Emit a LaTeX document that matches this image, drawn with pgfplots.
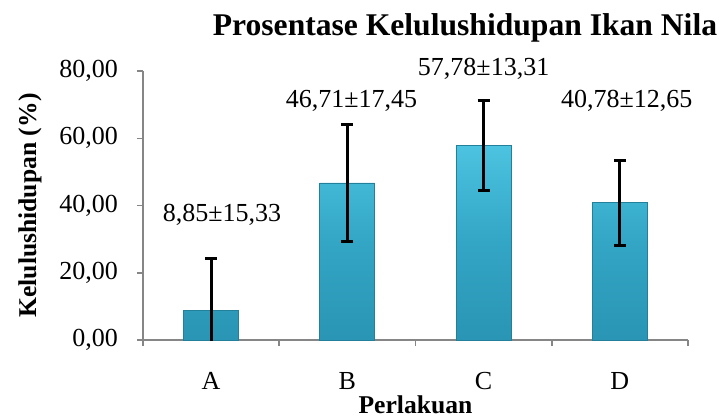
\documentclass[border=0pt]{standalone}
\usepackage{pgfplots}
\pgfplotsset{compat=1.18}
\usepackage{fontspec}
\setmainfont{Liberation Serif}
\definecolor{barc}{HTML}{33A5C5}
\definecolor{bartop}{HTML}{4CC3E0}
\definecolor{barbot}{HTML}{2A95B4}
\definecolor{baredge}{HTML}{23809B}
\definecolor{axgray}{HTML}{868686}
\begin{document}
\begin{tikzpicture}
\useasboundingbox (-71.5pt,-38.5pt) rectangle (289.5pt,170pt);
\begin{axis}[
  scale only axis, width=272.5pt, height=134.5pt,
  xmin=-0.5, xmax=3.5, ymin=0, ymax=80,
  axis x line*=bottom, axis y line*=left,
  axis line style={draw=axgray, line width=0.75pt},
  every tick/.style={draw=axgray, line width=0.75pt},
  tick align=outside,
  xtick={0,1,2,3}, xticklabels={A,B,C,D},
  major x tick style={draw=none},
  minor xtick={-0.5,0.5,1.5,2.5,3.5},
  minor tick length=3pt, major tick length=3pt,
  ytick={0,20,40,60,80},
  /pgf/number format/.cd, fixed, fixed zerofill, precision=2, use comma, assume math mode=true,
  /pgfplots/.cd,
  tick label style={font=\fontsize{13}{15}\selectfont},
  xticklabel style={anchor=base, yshift=-21.5pt},
  yticklabel style={anchor=east, xshift=-6pt},
  xlabel={Perlakuan},
  xlabel style={font=\bfseries\fontsize{12.8}{15}\selectfont, at={(axis description cs:0.5,-0.2714)}, anchor=base},
  ylabel={Kelulushidupan (\%)},
  ylabel style={font=\bfseries\fontsize{12.8}{15}\selectfont, at={(axis description cs:-0.2073,0.5)}, anchor=center, rotate=0},
  clip mode=individual,
  ybar, bar width=27.5pt,
]
\addplot[
  draw=baredge, line width=0.4pt, top color=bartop, bottom color=barbot, middle color=barc,
  error bars/.cd, y dir=both, y explicit,
  error bar style={black, line width=1.5pt},
  error mark options={black, line width=1.5pt, mark size=3pt, rotate=90},
] coordinates {
  (0,8.85) +- (0,15.33)
  (1,46.71) +- (0,17.45)
  (2,57.78) +- (0,13.31)
  (3,40.78) +- (0,12.65)
};
\node[font=\fontsize{13}{15}\selectfont] at (axis cs:0.08,37.2) {8,85±15,33};
\node[font=\fontsize{13}{15}\selectfont] at (axis cs:1.03,71.1) {46,71±17,45};
\node[font=\fontsize{13}{15}\selectfont] at (axis cs:2.0,80.6) {57,78±13,31};
\node[font=\fontsize{13}{15}\selectfont] at (axis cs:3.05,71.1) {40,78±12,65};
\end{axis}
\node[font=\bfseries\fontsize{15.8}{18}\selectfont, anchor=base] at (161pt,152pt) {Prosentase Kelulushidupan Ikan Nila};
\end{tikzpicture}
\end{document}
